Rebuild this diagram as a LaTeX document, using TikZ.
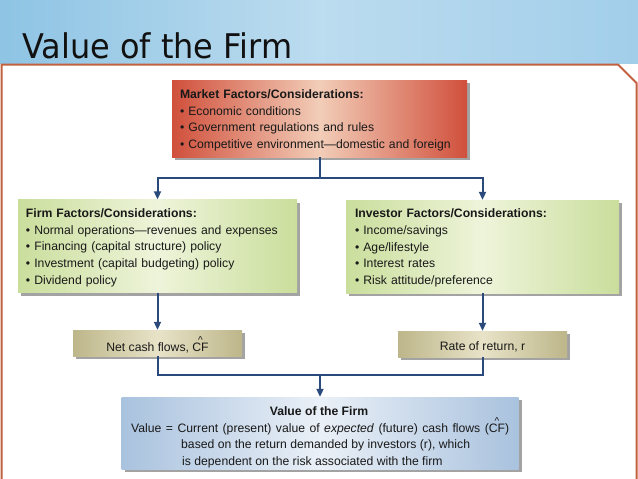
\documentclass[tikz,border=0pt]{standalone}
\usepackage{fontspec}
\setmainfont{Liberation Sans}
\newfontfamily\titlefont{DejaVu Sans}
\usetikzlibrary{arrows.meta,shadows}
\definecolor{bannerL}{HTML}{8EC4E4}
\definecolor{bannerM}{HTML}{BCDCEF}
\definecolor{bannerR}{HTML}{A2CEEA}
\definecolor{framec}{HTML}{C2613F}
\definecolor{redE}{HTML}{D0503C}
\definecolor{redC}{HTML}{F2CDB8}
\definecolor{greenE}{HTML}{CADE9C}
\definecolor{greenC}{HTML}{EEF4DA}
\definecolor{khakiE}{HTML}{BDB68A}
\definecolor{khakiC}{HTML}{E8E3C8}
\definecolor{blueE}{HTML}{A9C2DE}
\definecolor{blueC}{HTML}{EAF0F7}
\definecolor{connblue}{HTML}{2A4A7C}
\definecolor{titlec}{HTML}{111111}
\newcommand\CFhat{\ooalign{CF\cr\hidewidth\raisebox{8pt}{\fontsize{10}{10}\selectfont\textasciicircum}\hidewidth\cr}}
\tikzset{
  boxbase/.style={rectangle, draw=none, inner sep=0pt,
    drop shadow={shadow xshift=3pt, shadow yshift=-3pt, fill=black!45, opacity=0.8},
    font=\fontsize{12.2}{16.7}\selectfont, text=black!90},
  redbox/.style={boxbase, left color=redE, right color=redE, middle color=redC},
  greenbox/.style={boxbase, left color=greenE, right color=greenE, middle color=greenC},
  khakibox/.style={boxbase, left color=khakiE, right color=khakiE, middle color=khakiC, text depth=0pt},
  bluebox/.style={boxbase, left color=blueE, right color=blueE, middle color=blueC},
  conn/.style={draw=connblue, line width=2pt},
  arr/.style={-{Triangle[length=8pt,width=7pt]}},
  vtext/.style={anchor=base west, inner sep=0pt, font=\fontsize{12.2}{16.7}\selectfont, text=black!90}
}
\begin{document}
\begin{tikzpicture}[x=1pt,y=-1pt]
\useasboundingbox (0,0) rectangle (638,479);
\shade[left color=bannerL, right color=bannerR, middle color=bannerM] (0,0) rectangle (638,64);
\fill[white] (0,64) rectangle (638,479);
\draw[framec, line width=2pt] (1.5,480) -- (1.5,64.5) -- (618,64.5) -- (636.5,83) -- (636.5,480);
\node[anchor=base west, inner sep=0pt, text=titlec, font=\titlefont\fontsize{34}{34}\selectfont] (title) at (22,58) {\scalebox{0.94}[1]{Value of the Firm}};

\node[redbox, minimum width=295pt, minimum height=77pt, text width=279pt, align=left] (market) at (319.5,118.5)
  {\rule{0pt}{12.8pt}\textbf{Market Factors/Considerations:}\\
   \textbullet\ Economic conditions\\
   \textbullet\ Government regulations and rules\\
   \textbullet\ Competitive environment---domestic and foreign};

\node[greenbox, minimum width=279pt, minimum height=93pt, text width=263pt, align=left] (firm) at (157.5,246)
  {\rule{0pt}{12pt}\textbf{Firm Factors/Considerations:}\\
   \textbullet\ Normal operations---revenues and expenses\\
   \textbullet\ Financing (capital structure) policy\\
   \textbullet\ Investment (capital budgeting) policy\\
   \textbullet\ Dividend policy};

\node[greenbox, minimum width=273pt, minimum height=93pt, text width=255pt, align=left] (inv) at (482.5,246.5)
  {\rule{0pt}{12pt}\textbf{Investor Factors/Considerations:}\\
   \textbullet\ Income/savings\\
   \textbullet\ Age/lifestyle\\
   \textbullet\ Interest rates\\
   \textbullet\ Risk attitude/preference};

\node[khakibox, minimum width=169pt, minimum height=26pt, text height=17pt] (ncf) at (157.5,343) {Net cash flows, \CFhat};
\node[khakibox, minimum width=169pt, minimum height=26pt, text height=12pt] (ror) at (482.5,344) {Rate of return, r};

\node[bluebox, minimum width=397pt, minimum height=72pt] (val) at (320,433) {};
\node[vtext, anchor=base, font=\fontsize{12.2}{16.7}\selectfont\bfseries] (valtitle) at (319,415) {Value of the Firm};
\node[vtext] (val1) at (131,432) {\makebox[378pt][s]{Value = Current (present) value of \textit{expected} (future) cash flows (\CFhat)}};
\node[vtext] (val2) at (181,448.7) {based on the return demanded by investors (r), which};
\node[vtext] (val3) at (182,465.4) {is dependent on the risk associated with the firm};

\coordinate (mj) at (319.5,178);
\draw[conn] (market.south) -- (mj);
\draw[conn,arr] (mj) -| (firm.north);
\draw[conn,arr] (mj) -| (inv.north);
\draw[conn,arr] (firm.south) -- (ncf.north);
\draw[conn,arr] (inv.south) -- (ror.north);
\coordinate (bj) at (320,375);
\draw[conn] (ncf.south) |- (bj) -| (ror.south);
\draw[conn,arr] (bj) -- (val.north);
\end{tikzpicture}
\end{document}
